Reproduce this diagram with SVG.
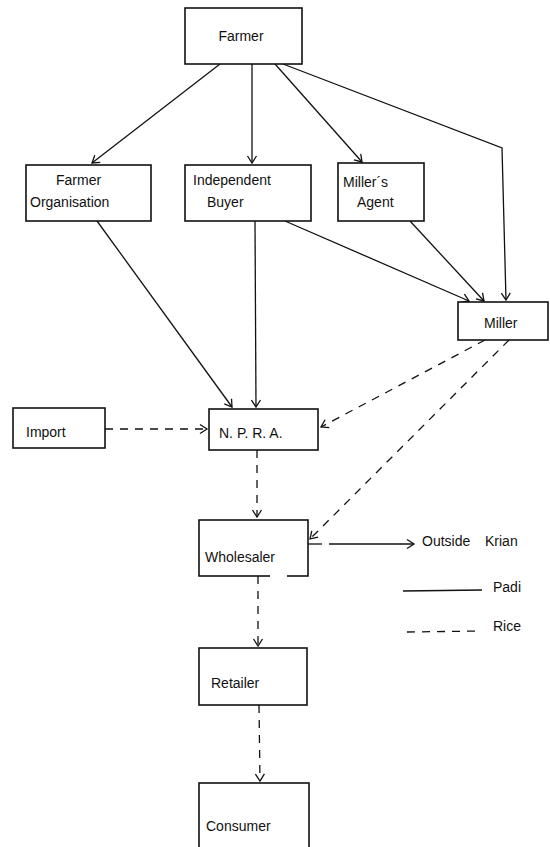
<svg xmlns="http://www.w3.org/2000/svg" width="550" height="847" viewBox="0 0 550 847">
<style>
rect.box{fill:#fff;stroke:#111;stroke-width:1.6}
text{font-family:"Liberation Sans",Arial,sans-serif;font-size:14px;fill:#111}
.solid{fill:none;stroke:#111;stroke-width:1.3}
.dash{fill:none;stroke:#111;stroke-width:1.3;stroke-dasharray:8,7}
</style>
<defs>
<marker id="ah" markerWidth="12" markerHeight="12" refX="10" refY="6" orient="auto" markerUnits="userSpaceOnUse">
<path d="M3,1.5 L10,6 L3,10.5" fill="none" stroke="#111" stroke-width="1.3"/>
</marker>
</defs>
<rect width="550" height="847" fill="#fff"/>
<g id="connectors">
<line class="solid" x1="220" y1="64" x2="92" y2="163" marker-end="url(#ah)"/>
<line class="solid" x1="252" y1="64" x2="252" y2="163" marker-end="url(#ah)"/>
<line class="solid" x1="275" y1="64" x2="362" y2="162" marker-end="url(#ah)"/>
<polyline class="solid" points="283,64 502,148 506,300" marker-end="url(#ah)"/>
<line class="solid" x1="285" y1="221" x2="469" y2="301" marker-end="url(#ah)"/>
<line class="solid" x1="410" y1="221" x2="484" y2="301" marker-end="url(#ah)"/>
<line class="solid" x1="97" y1="221" x2="232" y2="407" marker-end="url(#ah)"/>
<line class="solid" x1="255" y1="221" x2="256" y2="407" marker-end="url(#ah)"/>
<line class="dash" x1="105" y1="429" x2="207" y2="429" marker-end="url(#ah)"/>
<line class="dash" x1="485" y1="340" x2="321" y2="427" marker-end="url(#ah)"/>
<line class="dash" x1="509" y1="340" x2="310" y2="539" marker-end="url(#ah)"/>
<line class="dash" x1="257" y1="450" x2="257" y2="517" marker-end="url(#ah)"/>
<line class="solid" x1="308" y1="544" x2="322" y2="544"/>
<line class="solid" x1="329" y1="544" x2="414" y2="544" marker-end="url(#ah)"/>
<line class="dash" x1="258" y1="576" x2="258" y2="646" marker-end="url(#ah)"/>
<line class="dash" x1="259" y1="705" x2="260" y2="781" marker-end="url(#ah)"/>
</g>
<g id="farmer"><rect class="box" x="185" y="8" width="117" height="56"/><text x="241" y="41" text-anchor="middle">Farmer</text></g>
<g id="farmer-organisation"><rect class="box" x="26" y="165" width="125" height="56"/><text x="56" y="185">Farmer</text><text x="30" y="207">Organisation</text></g>
<g id="independent-buyer"><rect class="box" x="185" y="165" width="126" height="56"/><text x="193" y="185">Independent</text><text x="207" y="207">Buyer</text></g>
<g id="millers-agent"><rect class="box" x="338" y="163" width="86" height="58"/><text x="343" y="187">Miller´s</text><text x="357" y="207">Agent</text></g>
<g id="miller"><rect class="box" x="458" y="302" width="90" height="38"/><text x="484" y="328">Miller</text></g>
<g id="import"><rect class="box" x="13" y="408" width="92" height="40"/><text x="26" y="437">Import</text></g>
<g id="npra"><rect class="box" x="209" y="409" width="109" height="41"/><text x="219" y="438">N. P. R. A.</text></g>
<g id="wholesaler"><rect class="box" x="199" y="520" width="109" height="56"/><line x1="270" y1="576" x2="287" y2="576" stroke="#fff" stroke-width="3"/><text x="205" y="562">Wholesaler</text></g>
<g id="outside-krian"><text x="422" y="546">Outside<tspan x="485">Krian</tspan></text></g>
<g id="retailer"><rect class="box" x="199" y="648" width="108" height="57"/><text x="211" y="688">Retailer</text></g>
<g id="consumer"><rect class="box" x="199" y="783" width="110" height="70"/><text x="206" y="831">Consumer</text></g>
<g id="legend">
<line class="solid" x1="403" y1="591" x2="482" y2="590"/><text x="493" y="592">Padi</text>
<line class="dash" x1="407" y1="632" x2="482" y2="631" stroke-dasharray="9,6"/><text x="493" y="631">Rice</text>
</g>
</svg>
